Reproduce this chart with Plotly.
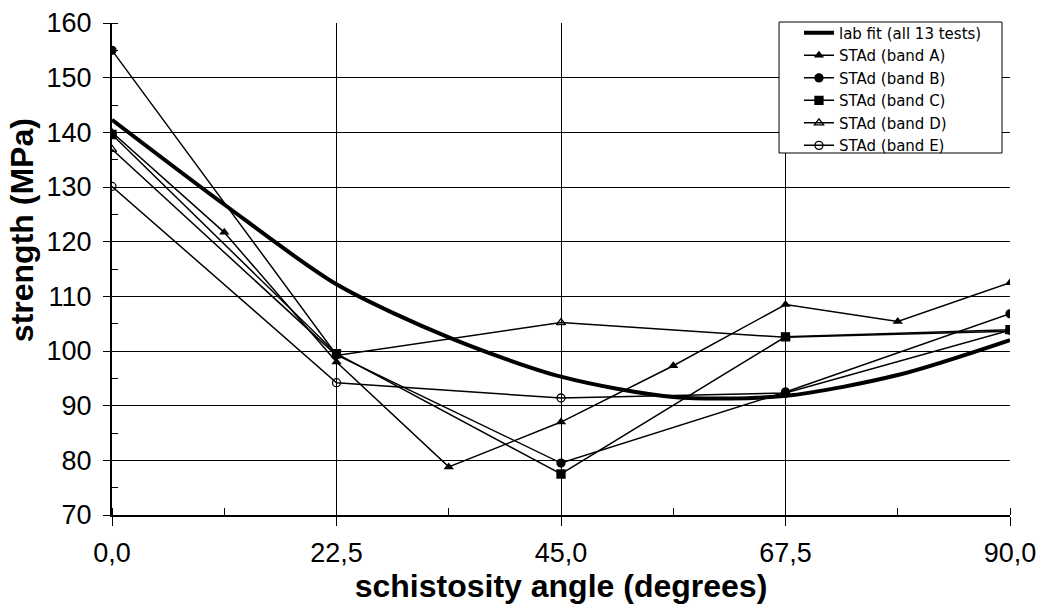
import plotly.graph_objects as go

# ---- data ----
angles_fine = [0, 11.25, 22.5, 33.75, 45, 56.25, 67.5, 78.75, 90]
angles = [0, 22.5, 45, 67.5, 90]

lab_fit = [142.3, 126.8, 112.2, 102.5, 95.3, 91.6, 91.8, 95.6, 102.0]
band_a = [140.0, 121.7, 98.0, 78.8, 87.0, 97.3, 108.5, 105.4, 112.5]
band_b = [155.0, 99.3, 79.5, 92.5, 106.8]
band_c = [139.6, 99.5, 77.5, 102.6, 103.9]
band_d = [136.9, 99.2, 105.2, 102.5, 103.6]
band_e = [130.1, 94.2, 91.4, 92.3, 103.8]

x_tickvals = [0, 22.5, 45, 67.5, 90]
x_ticktext = ["0,0", "22,5", "45,0", "67,5", "90,0"]
y_tickvals = [70, 80, 90, 100, 110, 120, 130, 140, 150, 160]

names = ["lab fit (all 13 tests)", "STAd (band A)", "STAd (band B)",
         "STAd (band C)", "STAd (band D)", "STAd (band E)"]

fig = go.Figure()
fig.add_trace(go.Scatter(x=angles_fine, y=lab_fit, mode="lines", name=names[0],
                         line=dict(color="black", width=4, shape="spline", smoothing=0.8)))
fig.add_trace(go.Scatter(x=angles_fine, y=band_a, mode="lines+markers", name=names[1],
                         line=dict(color="black", width=1.5),
                         marker=dict(symbol="triangle-up", size=9, color="black")))
series = [(band_b, "circle", names[2]), (band_c, "square", names[3]),
          (band_d, "triangle-up-open", names[4]), (band_e, "circle-open", names[5])]
for ys, sym, nm in series:
    fig.add_trace(go.Scatter(x=angles, y=ys, mode="lines+markers", name=nm,
                             line=dict(color="black", width=1.5),
                             marker=dict(symbol=sym, size=8, color="black",
                                         line=dict(color="black", width=1.3))))

font_family = "Liberation Sans, Arial, sans-serif"
fig.update_layout(
    width=1043, height=612,
    margin=dict(l=112, r=33, t=23, b=97, autoexpand=False),
    paper_bgcolor="white", plot_bgcolor="white",
    font=dict(family=font_family, color="black"),
    showlegend=True,
    legend=dict(x=0.765, y=1.013, xanchor="left", yanchor="top",
                bgcolor="rgba(0,0,0,0)", borderwidth=0,
                font=dict(size=15, family="DejaVu Sans, sans-serif"), tracegroupgap=0,
                itemwidth=30),
    shapes=[dict(type="rect", xref="paper", yref="paper",
                 x0=0.7428, x1=0.9911, y0=0.7358, y1=1.002,
                 line=dict(color="black", width=1), fillcolor="white", layer="above")],
    annotations=[dict(text="<b>strength (MPa)</b>", textangle=-90,
                      xref="paper", yref="paper", x=-0.1002, y=0.579,
                      xanchor="center", yanchor="middle", showarrow=False,
                      font=dict(size=32))],
)
fig.update_xaxes(
    range=[0, 90], tickmode="array", tickvals=x_tickvals, ticktext=x_ticktext,
    showgrid=True, gridcolor="black", gridwidth=1,
    showline=True, linecolor="black", linewidth=2, mirror=False,
    ticks="outside", ticklen=9, tickcolor="black", ticklabelstandoff=4,
    tickfont=dict(size=27),
    minor=dict(tick0=0, dtick=11.25, ticks="inside", ticklen=7, tickcolor="black", showgrid=False),
    title=dict(text="<b>schistosity angle (degrees)</b>", font=dict(size=32), standoff=0),
    zeroline=False,
)
fig.update_yaxes(
    range=[70, 160], tickmode="array", tickvals=y_tickvals,
    showgrid=True, gridcolor="black", gridwidth=1,
    showline=True, linecolor="black", linewidth=2,
    ticks="outside", ticklen=7, tickcolor="black", ticklabelstandoff=6,
    tickfont=dict(size=27),
    minor=dict(tick0=70, dtick=5, ticks="inside", ticklen=6, tickcolor="black", showgrid=False),
    zeroline=False,
)

fig.write_html("out.html")
